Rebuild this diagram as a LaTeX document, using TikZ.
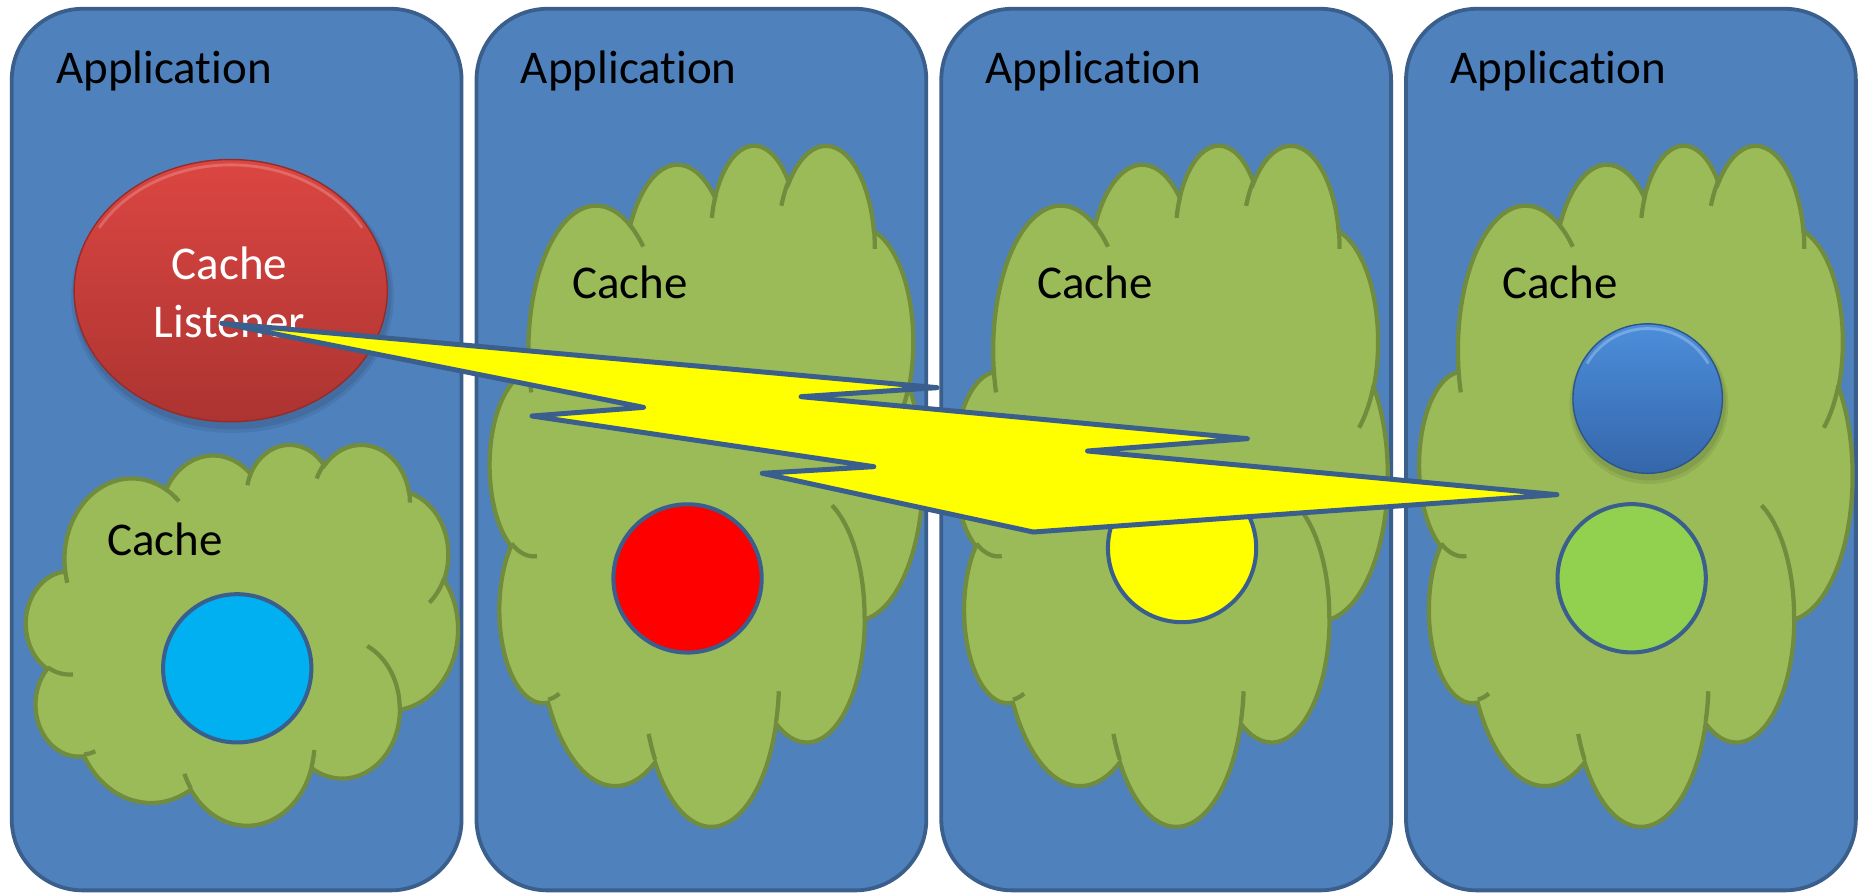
\documentclass[tikz,border=0pt]{standalone}
\usepackage{fontspec}
\setmainfont{Carlito}[Ligatures=NoCommon]
\usetikzlibrary{shapes.geometric}
\definecolor{panelfill}{HTML}{4F81BD}
\definecolor{panelline}{HTML}{3A5F8C}
\definecolor{cloudfill}{HTML}{9BBB59}
\definecolor{cloudline}{HTML}{728C3E}
\definecolor{cyanfill}{HTML}{00B0F0}
\definecolor{greenfill}{HTML}{92D050}
\definecolor{boltfill}{HTML}{FFFF00}
\definecolor{listtop}{HTML}{DC4642}
\definecolor{listbot}{HTML}{AC3431}
\definecolor{listedge}{HTML}{962C29}
\definecolor{bluetop}{HTML}{4C8EDB}
\definecolor{bluebot}{HTML}{3566AA}
\definecolor{blueedge}{HTML}{2B558C}
\tikzset{
  panelbox/.style={fill=panelfill, draw=panelline, line width=1.6pt, rounded corners=30pt},
  cloudbody/.style={fill=cloudfill, draw=cloudline, line width=1.8pt},
  cloudtick/.style={draw=cloudline, line width=1.8pt},
  cachedot/.style={circle, inner sep=0pt, minimum size=62.5pt, draw=panelline, line width=1.7pt},
  txt/.style={font=\fontsize{19.8}{24}\selectfont, text=black, inner sep=0pt},
  whitetxt/.style={font=\fontsize{19.8}{24}\selectfont, text=white, inner sep=0pt},
  bolt/.style={fill=boltfill, draw=panelline, line width=2.1pt, line join=round},
}
\newcommand{\drawcloud}[4]{%
\begin{scope}[shift={(#1,#2)}, xscale=#3/432, yscale=#4/432]
\path[cloudbody] (39.00,143.70)
  arc[start angle=-187.75, end angle=-59.64, x radius=67.53, y radius=91.90]
  arc[start angle=-152.03, end angle=-45.45, x radius=53.33, y radius=72.67]
  arc[start angle=-153.49, end angle=-37.35, x radius=43.65, y radius=59.45]
  arc[start angle=-139.72, end angle=-10.21, x radius=48.57, y radius=65.95]
  arc[start angle=-74.77, end angle=23.21, x radius=53.33, y radius=72.73]
  arc[start angle=-37.53, end angle=81.86, x radius=67.75, y radius=92.20]
  arc[start angle=0.46, end angle=121.98, x radius=57.85, y radius=78.67]
  arc[start angle=16.84, end angle=146.21, x radius=67.52, y radius=92.15]
  arc[start angle=58.98, end angle=150.19, x radius=77.20, y radius=105.43]
  arc[start angle=83.31, end angle=223.11, x radius=43.60, y radius=59.18]
  arc[start angle=120.35, end angle=264.11, x radius=43.45, y radius=59.45]
  -- cycle;
\path[cloudtick]
  (46.93,261.77) arc[start angle=85.55, end angle=120.35, x radius=43.45, y radius=59.45]
  (69.28,348.99) arc[start angle=68.24, end angle=83.31, x radius=43.60, y radius=59.18]
  (164.78,390.90) arc[start angle=146.21, end angle=157.75, x radius=67.52, y radius=92.15]
  (288.27,347.51) arc[start angle=4.74, end angle=16.84, x radius=67.52, y radius=92.15]
  (341.29,229.54) arc[start angle=-64.03, end angle=0.46, x radius=57.85, y radius=78.67]
  (417.98,153.54) arc[start angle=23.21, end angle=49.64, x radius=53.33, y radius=72.73]
  (383.24,54.26) arc[start angle=-10.21, end angle=0.82, x radius=48.57, y radius=65.95]
  (290.78,39.52) arc[start angle=-156.29, end angle=-139.72, x radius=48.57, y radius=65.95]
  (221.41,47.20) arc[start angle=-167.73, end angle=-153.49, x radius=43.65, y radius=59.45]
  (140.00,51.92) arc[start angle=-59.64, end angle=-45.74, x radius=67.53, y radius=91.90]
  (41.27,157.89) arc[start angle=163.20, end angle=172.25, x radius=67.53, y radius=91.90];
\end{scope}}
\begin{document}
\begin{tikzpicture}[x=0.5pt, y=-0.5pt]
\fill[white] (0,0) rectangle (1568,755);
\useasboundingbox (0,0) rectangle (1568,755);

% panels
\draw[panelbox] (9.9,7.4) rectangle (389.1,750.6);
\draw[panelbox] (401.7,7.4) rectangle (780.9,750.6);
\draw[panelbox] (793.5,7.4) rectangle (1172.7,750.6);
\draw[panelbox] (1185.3,7.4) rectangle (1564.5,750.6);

\node[txt, anchor=base west] (app1) at (47,70.3) {Application};
\node[txt, anchor=base west] (app2) at (438.8,70.3) {Application};
\node[txt, anchor=base west] (app3) at (830.6,70.3) {Application};
\node[txt, anchor=base west] (app4) at (1222.4,70.3) {Application};

% clouds
\drawcloud{22}{374}{364}{321}
\drawcloud{413}{121}{365}{574}
\drawcloud{804.8}{121}{365}{574}
\drawcloud{1196.6}{121}{365}{574}

\node[txt, anchor=base west] (cache1) at (90,468) {Cache};
\node[txt, anchor=base west] (cache2) at (482,252) {Cache};
\node[txt, anchor=base west] (cache3) at (873.8,252) {Cache};
\node[txt, anchor=base west] (cache4) at (1266,252) {Cache};

% cache entries
\node[cachedot, fill=cyanfill] (entry1) at (200,563.4) {};
\node[cachedot, fill=red] (entry2) at (579.6,487.6) {};
\node[cachedot, fill=boltfill] (entry3) at (996.5,462) {};
\node[cachedot, fill=greenfill] (entry4) at (1375.5,487.5) {};

% glossy blue entry
\fill[black, opacity=0.07] (1390,341) circle[radius=67];
\fill[black, opacity=0.08] (1390,340) circle[radius=65];
\node[circle, inner sep=0pt, minimum size=63pt, top color=bluetop, bottom color=bluebot,
      draw=blueedge, line width=0.6pt] (entry5) at (1389,336) {};
\draw[white, opacity=0.25, line width=1.2pt] (1389,336) ++(-150:59) arc[start angle=-150, end angle=-30, radius=59];

% cache listener
\fill[black, opacity=0.07] (196,250) ellipse[x radius=136, y radius=115];
\fill[black, opacity=0.08] (196,249) ellipse[x radius=134, y radius=113];
\node[ellipse, inner sep=0pt, minimum width=132pt, minimum height=110.5pt,
      top color=listtop, bottom color=listbot, draw=listedge, line width=0.6pt] (listener) at (194.5,245) {};
\draw[white, opacity=0.2, line width=1.2pt] (194.5,245) ++(-150:128 and 106) arc[start angle=-150, end angle=-30, x radius=128, y radius=106];
\node[whitetxt, anchor=base] (lt1) at (193.5,235.5) {Cache};
\node[whitetxt, anchor=base] (lt2) at (193.5,284.3) {Listener};

% lightning bolt
\draw[bolt] (187,272.5) -- (790,326.8) -- (675.3,334.4) -- (1051.5,369.8) -- (916.8,380.2)
  -- (1312.5,417) -- (871,448.5) -- (642.6,399) -- (736.6,393.4) -- (448.5,350.7)
  -- (542.5,343.4) -- cycle;
\end{tikzpicture}
\end{document}
